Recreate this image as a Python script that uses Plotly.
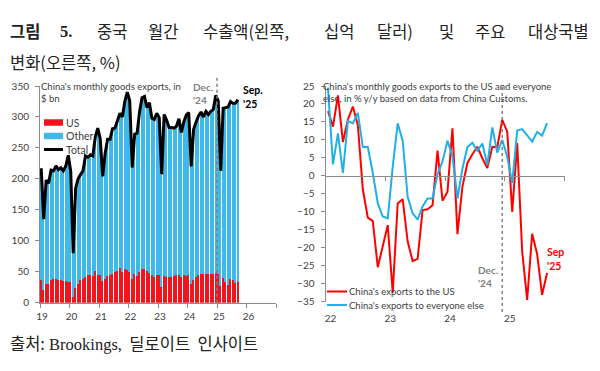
import plotly.graph_objects as go

# ---------------- data ----------------
# Left chart: China's monthly goods exports ($ bn), Jan 2019 .. Sep 2025
total_exports = [
    217, 135, 198, 193, 214, 213, 221, 215, 218, 213, 221, 238,   # 2019
    212, 80, 185, 200, 207, 213, 237, 235, 239, 237, 268, 282,    # 2020
    265, 204, 241, 264, 264, 281, 282, 294, 306, 300, 325, 340,   # 2021
    326, 218, 272, 274, 308, 331, 333, 315, 323, 298, 296, 306,   # 2022
    299, 207, 304, 295, 283, 283, 282, 285, 297, 275, 292, 303,   # 2023
    307, 220, 280, 292, 302, 308, 300, 309, 304, 309, 312, 335,   # 2024
    326, 213, 314, 315, 316, 325, 322, 322, 328,                  # 2025
]
us_exports = [
    36, 21, 31, 31, 37, 38, 38, 37, 36, 35, 35, 34,
    33, 9, 23, 30, 37, 38, 41, 44, 44, 43, 52, 44,
    45, 35, 38, 43, 45, 47, 49, 51, 56, 50, 54, 53,
    50, 38, 46, 43, 50, 55, 54, 51, 48, 45, 41, 44,
    44, 26, 43, 42, 42, 42, 43, 45, 44, 42, 44, 43,
    44, 30, 37, 41, 44, 46, 46, 47, 46, 46, 47, 48,
    46, 27, 40, 33, 29, 38, 36, 32, 34,
]
other_exports = [t - u for t, u in zip(total_exports, us_exports)]
left_years = [2019 + (i + 0.5) / 12 for i in range(len(total_exports))]
left_tick_vals = list(range(2019, 2028))
left_tick_text = ["19", "20", "21", "22", "23", "24", "25", "26", ""]
left_legend_names = ["US", "Other", "Total"]

# Right chart: y/y % change, Jan 2022 .. Sep 2025
us_yoy = [
    18, 13.7, 22.4, 9.4, 15.7, 19.3, 14, -3.8, -11.6, -12.6, -25.4, -19.5,
    -13.7, -32.5, -7.7, -6.5, -18.2, -23.7, -23.1, -9.5, -9.3, -8.2, 7.0, -6.9,
    -4.4, 13.2, -16.2, -3.0, 3.6, 6.0, 8.1, 4.9, 2.2, 8.1, 8.0, 15.6,
    12.3, -10.0, 9.1, -21.0, -34.5, -16.1, -21.7, -33.1, -27.0,
]
rest_yoy = [
    24.5, 3.2, 11.8, 0.8, 15.3, 14.6, 17.5, 8.0, 8.0, 0.8, -7.6, -11.3,
    -11.8, 2.5, 14.6, 9.8, -5.8, -10.4, -12.2, -8.5, -6.3, -6.3, 0.5, 4.0,
    9.8, 5.5, -6.3, 2.0, 8.0, 9.2, 7.0, 9.0, 3.0, 13.5, 6.5, 10.0,
    5.4, -2.0, 12.6, 13.0, 11.3, 9.5, 12.2, 11.2, 14.7,
]
right_months = list(range(len(us_yoy)))
right_tick_vals = [-0.5, 11.5, 23.5, 35.5]
right_tick_text = ["22", "23", "24", "25"]
right_legend_names = ["China's exports to the US", "China's exports to everyone else"]
dec24_index_right = 35
dec24_index_left = 71

# ---------------- layout helpers ----------------
W, H = 600, 371
def fx(p):
    return p / W
def fy(p):
    return 1 - p / H

FONT = "Lato, 'Open Sans', sans-serif"
KFONT = "'Noto Sans CJK KR', sans-serif"
SERIF = "'Liberation Serif', 'DejaVu Serif', serif"
AX = "#8c8c8c"
TXT = "#404040"
RED = "#f0141e"
BLUE = "#3dbae9"
LBLUE = "#1fb0ea"

fig = go.Figure()

# left bars + total line
fig.add_trace(go.Bar(x=left_years, y=us_exports, name=left_legend_names[0],
                     marker=dict(color=RED, line=dict(width=0)), xaxis="x", yaxis="y"))
fig.add_trace(go.Bar(x=left_years, y=other_exports, name=left_legend_names[1],
                     marker=dict(color=BLUE, line=dict(width=0)), xaxis="x", yaxis="y"))
fig.add_trace(go.Scatter(x=left_years, y=total_exports, mode="lines", name=left_legend_names[2],
                         line=dict(color="black", width=3), xaxis="x", yaxis="y"))

# right lines
fig.add_trace(go.Scatter(x=right_months, y=us_yoy, mode="lines", name=right_legend_names[0],
                         line=dict(color="#ff0000", width=2), xaxis="x2", yaxis="y2"))
fig.add_trace(go.Scatter(x=right_months, y=rest_yoy, mode="lines", name=right_legend_names[1],
                         line=dict(color=LBLUE, width=2), xaxis="x2", yaxis="y2"))
# empty trace to register the zero-line axis
fig.add_trace(go.Scatter(x=[], y=[], xaxis="x3", yaxis="y2", hoverinfo="skip"))

ld_x = [fx(40), fx(276)]
ld_y = [fy(302.7), fy(86)]
rd_x = [fx(325.5), fx(564.5)]
rd_y = [fy(301.7), fy(86)]
ymin_r, ymax_r = -35, 25
zero_pos = rd_y[0] + (rd_y[1] - rd_y[0]) * (0 - ymin_r) / (ymax_r - ymin_r)

tickfont = dict(family=FONT, size=10, color=TXT)

fig.update_layout(
    width=W, height=H, margin=dict(l=0, r=0, t=0, b=0),
    paper_bgcolor="white", plot_bgcolor="white",
    barmode="stack", bargap=0.38, showlegend=False,
    xaxis=dict(domain=ld_x, range=[2019, 2027], tickvals=left_tick_vals, ticktext=left_tick_text,
               showgrid=False, zeroline=False, showline=True, linecolor=AX, linewidth=1,
               ticks="outside", ticklen=4, tickcolor=AX, tickfont=tickfont,
               ticklabelshift=2, anchor="y", automargin=False),
    yaxis=dict(domain=ld_y, range=[0, 350], dtick=50, showgrid=False, zeroline=False,
               showline=True, linecolor=AX, linewidth=1, ticks="outside", ticklen=4,
               tickcolor=AX, tickfont=tickfont, ticklabelstandoff=4, anchor="x",
               automargin=False),
    xaxis2=dict(domain=rd_x, range=[-0.5, 47.5], tickvals=right_tick_vals, ticktext=right_tick_text,
                showgrid=False, zeroline=False, showline=False, ticks="",
                tickfont=tickfont, ticklabelshift=5, ticklabelstandoff=9,
                anchor="y2", automargin=False),
    xaxis3=dict(domain=rd_x, range=[-0.5, 47.5], overlaying="x2", anchor="free",
                position=zero_pos, side="bottom",
                tickvals=right_tick_vals + [47.5], showticklabels=False,
                showgrid=False, zeroline=False, showline=True, linecolor=AX, linewidth=1,
                ticks="outside", ticklen=4, tickcolor=AX, automargin=False),
    yaxis2=dict(domain=rd_y, range=[ymin_r, ymax_r], dtick=5, showgrid=False, zeroline=False,
                showline=True, linecolor=AX, linewidth=1, ticks="outside", ticklen=4,
                tickcolor=AX, tickfont=tickfont, ticklabelstandoff=4, anchor="x2",
                automargin=False),
)

# dotted Dec '24 lines
fig.add_shape(type="line", xref="x", yref="paper",
              x0=left_years[dec24_index_left] + 0.5 / 12, x1=left_years[dec24_index_left] + 0.5 / 12,
              y0=fy(302.7), y1=fy(78), line=dict(color="#7f7f7f", width=1.5, dash="dot"))
fig.add_shape(type="line", xref="x2", yref="paper",
              x0=right_months[dec24_index_right], x1=right_months[dec24_index_right],
              y0=fy(312), y1=fy(86), line=dict(color="#7f7f7f", width=1.5, dash="dot"))

def ann(text, x, y, size, color=TXT, family=FONT, xanchor="left", yanchor="middle", align="left"):
    fig.add_annotation(text=text, x=fx(x), y=fy(y), xref="paper", yref="paper",
                       showarrow=False, xanchor=xanchor, yanchor=yanchor, align=align,
                       font=dict(family=family, size=size, color=color))

def key_rect(color, x0, x1, yc, h):
    fig.add_shape(type="rect", xref="paper", yref="paper", x0=fx(x0), x1=fx(x1),
                  y0=fy(yc + h / 2), y1=fy(yc - h / 2), fillcolor=color, line=dict(width=0))

def key_line(color, x0, x1, yc, w):
    fig.add_shape(type="line", xref="paper", yref="paper", x0=fx(x0), x1=fx(x1),
                  y0=fy(yc), y1=fy(yc), line=dict(color=color, width=w))

# left legend (compact, as in the reference)
key_rect(RED, 44, 63, 122.5, 6.5)
ann(left_legend_names[0], 64, 122.5, 10.5)
key_rect(BLUE, 44, 63, 136, 6.5)
ann(left_legend_names[1], 64, 136, 10.5)
key_line("black", 44, 63, 149.5, 3)
ann(left_legend_names[2], 64, 149.5, 10.5)

# right legend
key_line("#ff0000", 327, 347, 291.5, 2)
ann(right_legend_names[0], 347, 291.5, 9.5)
key_line(LBLUE, 327, 347, 305, 2)
ann(right_legend_names[1], 347, 305, 9.5)

# chart annotations
ann("China's monthly goods exports, in<br>$ bn", 39, 79, 9.5, yanchor="top")
ann("<b>Dec.<br>'24</b>", 215, 79, 10, color="#808080", xanchor="right", yanchor="top")
ann("<b>Sep.<br>'25</b>", 241, 82, 10.5, color="black", yanchor="top")
ann("China's monthly goods exports to the US and everyone<br>else, in % y/y based on data from China Customs.",
    321, 79, 9.5, yanchor="top")
ann("<b>Dec.<br>'24</b>", 476, 276, 10, color="#808080")
ann("<b>Sep<br>'25</b>", 545, 259, 10.5, color="#ff0000")

# title (justified words)
title_words = [("<b>그림</b>", 8), ("<b>5.</b>", 58), ("중국", 95), ("월간", 146),
               ("수출액(왼쪽,", 201), ("십억", 322), ("달러)", 375), ("및", 437),
               ("주요", 473), ("대상국별", 526)]
for w, xpos in title_words:
    fam = SERIF if w == "<b>5.</b>" else KFONT
    ann(w, xpos, 31, 16.5, color="#222222", family=fam)
ann("변화(오른쪽, %)", 8, 62, 16.5, color="#222222", family=KFONT)

# source
ann("출처:<span style=\"font-family:'Liberation Serif', serif\"> Brookings,</span>  딜로이트  인사이트",
    8, 343, 16.5, color="#222222", family=KFONT)

fig.write_html("out.html", config={"displayModeBar": False},
               post_script="document.body.style.margin='0px';")
